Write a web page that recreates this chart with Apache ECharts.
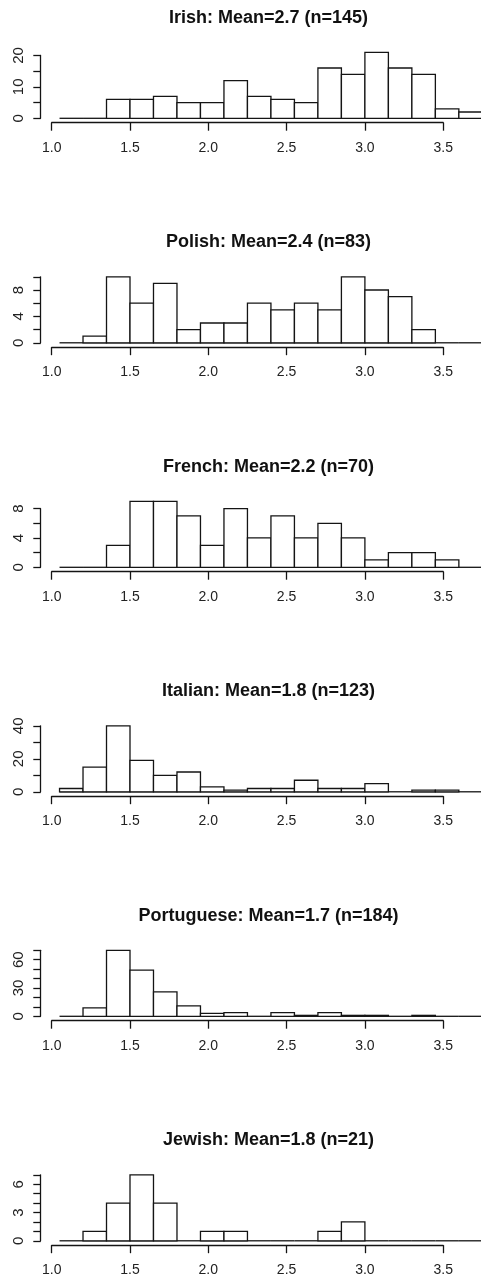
<!DOCTYPE html>
<html>
<head>
<meta charset="utf-8">
<title>Histograms by group</title>
<script src="https://cdn.jsdelivr.net/npm/echarts@6/dist/echarts.min.js"></script>
<style>
  html, body { margin: 0; padding: 0; background: #ffffff; }
  #chart { width: 481px; height: 1284px; }
</style>
</head>
<body>
<div id="chart"></div>
<script>
// Histogram bins: left edges, all bins 0.15 wide
const binStarts = [1.05, 1.2, 1.35, 1.5, 1.65, 1.8, 1.95, 2.1, 2.25, 2.4, 2.55, 2.7, 2.85, 3.0, 3.15, 3.3, 3.45, 3.6];
const binWidth = 0.15;

// Counts per bin for each group
const irishCounts      = [0, 0, 6, 6, 7, 5, 5, 12, 7, 6, 5, 16, 14, 21, 16, 14, 3, 2];
const polishCounts     = [0, 1, 10, 6, 9, 2, 3, 3, 6, 5, 6, 5, 10, 8, 7, 2, 0, 0];
const frenchCounts     = [0, 0, 3, 9, 9, 7, 3, 8, 4, 7, 4, 6, 4, 1, 2, 2, 1, 0];
const italianCounts    = [2, 15, 40, 19, 10, 12, 3, 1, 2, 2, 7, 2, 2, 5, 0, 1, 1, 0];
const portugueseCounts = [0, 9, 70, 49, 26, 11, 3, 4, 0, 4, 1, 4, 1, 1, 0, 1, 0, 0];
const jewishCounts     = [0, 1, 4, 7, 4, 0, 1, 1, 0, 0, 0, 1, 2, 0, 0, 0, 0, 0];

const panelTitles = [
  'Irish: Mean=2.7 (n=145)',
  'Polish: Mean=2.4 (n=83)',
  'French: Mean=2.2 (n=70)',
  'Italian: Mean=1.8 (n=123)',
  'Portuguese: Mean=1.7 (n=184)',
  'Jewish: Mean=1.8 (n=21)'
];
const panelCounts = [irishCounts, polishCounts, frenchCounts, italianCounts, portugueseCounts, jewishCounts];

// x tick labels
const xTickMin = 1.0;
const xTickMax = 3.5;
const xTickStep = 0.5;

// y ticks: step between tick marks, last tick, step between printed labels
const yTickStep  = [5, 2, 2, 10, 10, 1];
const yTickMax   = [20, 10, 8, 40, 70, 7];
const yLabelStep = [10, 4, 4, 20, 30, 3];

// ---- layout (pixels) ----
const W = 481;
const X_ONE = 51.7;        // pixel of x = 1.0
const PX_PER_X = 156.6;    // pixels per x unit
const BASE0 = 118.3;       // baseline of first panel
const PANEL_STEP = 224.5;  // vertical distance between panels
const DATA_H = 66;         // pixels from 0 to the tallest bar
const Y_AXIS_X = 40.7;
const LINE = '#141414';
const FONT = '"Liberation Sans", Arial, sans-serif';

const grids = [], xAxes = [], yAxes = [], series = [], titles = [];

panelCounts.forEach((counts, i) => {
  const base = BASE0 + PANEL_STEP * i;
  const yMaxCount = Math.max(...counts);
  const ppu = DATA_H / yMaxCount;

  // data grid spanning full width
  const gData = grids.length;
  grids.push({ left: 0, width: W, top: base - 74, height: 77 });
  xAxes.push({
    gridIndex: gData, type: 'value', show: false,
    min: 1 - X_ONE / PX_PER_X, max: 1 + (W - X_ONE) / PX_PER_X
  });
  yAxes.push({
    gridIndex: gData, type: 'value', show: false,
    min: -3 / ppu, max: 74 / ppu
  });

  series.push({
    type: 'custom',
    xAxisIndex: gData, yAxisIndex: gData,
    silent: true,
    encode: { x: [0, 1], y: 2 },
    data: binStarts.map((s, j) => [s, s + binWidth, counts[j]]),
    renderItem: (params, api) => {
      const a = api.coord([api.value(0), 0]);
      const b = api.coord([api.value(1), api.value(2)]);
      const children = [{
        type: 'line',
        shape: { x1: a[0], y1: a[1], x2: b[0], y2: a[1] },
        style: { stroke: LINE, lineWidth: 1.3 }
      }];
      if (api.value(2) > 0) {
        children.push({
          type: 'rect',
          shape: { x: a[0], y: b[1], width: b[0] - a[0], height: a[1] - b[1] },
          style: { fill: '#ffffff', stroke: LINE, lineWidth: 1.3 }
        });
      }
      return { type: 'group', children };
    }
  });

  // x axis grid (axis line only across tick range)
  const gx = grids.length;
  grids.push({ left: X_ONE, width: (xTickMax - xTickMin) * PX_PER_X, top: base - 20, height: 24.4 });
  xAxes.push({
    gridIndex: gx, type: 'value', min: xTickMin, max: xTickMax, interval: xTickStep,
    axisLine: { show: true, lineStyle: { color: LINE, width: 1.3 } },
    axisTick: { show: true, length: 8, lineStyle: { color: LINE, width: 1.3 } },
    splitLine: { show: false },
    axisLabel: {
      show: true, margin: 18, color: '#222', fontSize: 14, fontFamily: FONT,
      formatter: v => v.toFixed(1)
    }
  });
  yAxes.push({ gridIndex: gx, type: 'value', show: false, min: 0, max: 1 });

  // y axis grid (axis line from 0 to the last tick)
  const gy = grids.length;
  const axisH = yTickMax[i] * ppu;
  grids.push({ left: Y_AXIS_X, width: 10, top: base - axisH, height: axisH });
  xAxes.push({ gridIndex: gy, type: 'value', show: false, min: 0, max: 1 });
  yAxes.push({
    gridIndex: gy, type: 'value', min: 0, max: yTickMax[i], interval: yTickStep[i],
    axisLine: { show: true, lineStyle: { color: LINE, width: 1.3 } },
    axisTick: { show: true, length: 7.4, lineStyle: { color: LINE, width: 1.3 } },
    splitLine: { show: false },
    axisLabel: {
      show: true, rotate: 90, margin: 14, color: '#222', fontSize: 15, fontFamily: FONT,
      formatter: v => (v % yLabelStep[i] === 0 ? String(v) : '')
    }
  });

  titles.push({
    text: panelTitles[i],
    left: 268.5,
    top: base - 100.3,
    textAlign: 'center',
    textVerticalAlign: 'middle',
    padding: 0,
    textStyle: { fontSize: 18, fontWeight: 'bold', color: '#111', fontFamily: FONT }
  });
});

const chart = echarts.init(document.getElementById('chart'), null, { renderer: 'canvas' });
chart.setOption({
  backgroundColor: '#ffffff',
  animation: false,
  title: titles,
  grid: grids,
  xAxis: xAxes,
  yAxis: yAxes,
  series: series
});
</script>
</body>
</html>
